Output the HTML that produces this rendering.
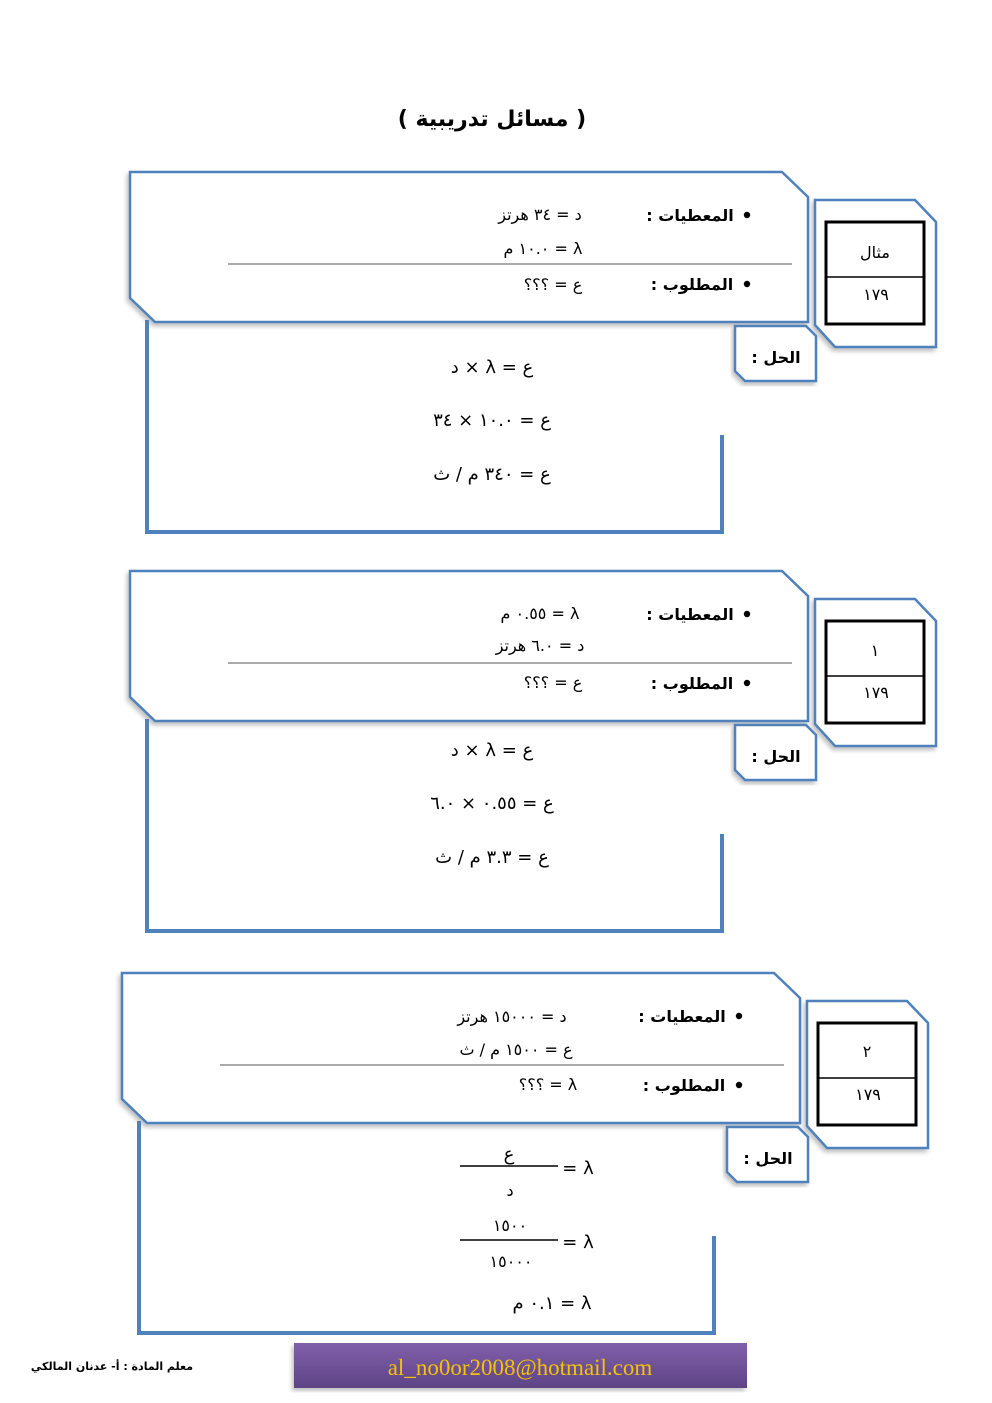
<!DOCTYPE html>
<html><head><meta charset="utf-8"><style>
html,body{margin:0;padding:0;background:#fff}
svg{display:block}
text{font-family:"DejaVu Sans","Liberation Sans",sans-serif;font-size:16px;fill:#000}
.b{font-weight:bold}
</style></head><body>
<svg width="992" height="1403" viewBox="0 0 992 1403" xmlns="http://www.w3.org/2000/svg">
<defs>
<filter id="sh" x="-5%" y="-5%" width="110%" height="115%"><feDropShadow dx="-2" dy="3" stdDeviation="2" flood-color="#000" flood-opacity="0.25"/></filter>
<linearGradient id="pg" x1="0" y1="0" x2="0" y2="1"><stop offset="0" stop-color="#8060aa"/><stop offset="1" stop-color="#5e4385"/></linearGradient>
<g id="shapes">
  <polygon points="130,172 782,172 808,197 808,322 155,322 130,298" fill="#fff" stroke="#4f81bd" stroke-width="2.5" filter="url(#sh)"/>
  <line x1="228" y1="264" x2="792" y2="264" stroke="#555" stroke-width="1"/>
  <polyline points="147,320 147,532 722,532 722,435" fill="none" stroke="#4f81bd" stroke-width="4"/>
  <polygon points="815,200 915,200 936,222 936,347 835,347 815,325" fill="#fff" stroke="#4f81bd" stroke-width="2.5" filter="url(#sh)"/>
  <rect x="826" y="222" width="98" height="102" fill="none" stroke="#000" stroke-width="3"/>
  <line x1="826" y1="277" x2="924" y2="277" stroke="#000" stroke-width="1.5"/>
  <polygon points="735,326 806,326 816,336 816,381 745,381 735,371" fill="#fff" stroke="#4f81bd" stroke-width="2.5" filter="url(#sh)"/>
  <circle cx="747" cy="215" r="3.2" fill="#000"/>
  <circle cx="747" cy="284" r="3.2" fill="#000"/>
  <text x="690" y="221" text-anchor="middle" direction="rtl" class="b">المعطيات :</text>
  <text x="692" y="290" text-anchor="middle" direction="rtl" class="b">المطلوب :</text>
  <text x="776" y="363" text-anchor="middle" direction="rtl" class="b">الحل :</text>
</g>
</defs>

<text x="492" y="126" text-anchor="middle" direction="rtl" class="b" style="font-size:22px">( مسائل تدريبية )</text>

<use href="#shapes"/>
<text x="540" y="220" text-anchor="middle" direction="rtl">د = ٣٤ هرتز</text>
<text x="543" y="254" text-anchor="middle" direction="rtl">λ = ١٠.٠ م</text>
<text x="553" y="290" text-anchor="middle" direction="rtl">ع = ؟؟؟</text>
<text x="875" y="258" text-anchor="middle">مثال</text>
<text x="876" y="300" text-anchor="middle">١٧٩</text>
<text x="492" y="373" text-anchor="middle" direction="rtl" style="font-size:18px">ع = λ × د</text>
<text x="492" y="426" text-anchor="middle" direction="rtl" style="font-size:18px">ع = ١٠.٠ × ٣٤</text>
<text x="492" y="480" text-anchor="middle" direction="rtl" style="font-size:18px">ع = ٣٤٠ م / ث</text>

<g transform="translate(0,399)"><use href="#shapes"/></g>
<text x="540" y="619" text-anchor="middle" direction="rtl">λ = ٠.٥٥ م</text>
<text x="540" y="651" text-anchor="middle" direction="rtl">د = ٦.٠ هرتز</text>
<text x="553" y="688" text-anchor="middle" direction="rtl">ع = ؟؟؟</text>
<text x="875" y="656" text-anchor="middle">١</text>
<text x="876" y="698" text-anchor="middle">١٧٩</text>
<text x="492" y="756" text-anchor="middle" direction="rtl" style="font-size:18px">ع = λ × د</text>
<text x="492" y="809" text-anchor="middle" direction="rtl" style="font-size:18px">ع = ٠.٥٥ × ٦.٠</text>
<text x="492" y="863" text-anchor="middle" direction="rtl" style="font-size:18px">ع = ٣.٣ م / ث</text>

<g transform="translate(-8,801)"><use href="#shapes"/></g>
<text x="512" y="1022" text-anchor="middle" direction="rtl">د = ١٥٠٠٠ هرتز</text>
<text x="516" y="1055" text-anchor="middle" direction="rtl">ع = ١٥٠٠ م / ث</text>
<text x="548" y="1090" text-anchor="middle" direction="rtl">λ = ؟؟؟</text>
<text x="867" y="1057" text-anchor="middle">٢</text>
<text x="868" y="1100" text-anchor="middle">١٧٩</text>
<line x1="460" y1="1166" x2="558" y2="1166" stroke="#000" stroke-width="1.5"/>
<text x="578" y="1174" text-anchor="middle" direction="rtl" style="font-size:18px">λ =</text>
<text x="509" y="1160" text-anchor="middle" style="font-size:18px">ع</text>
<text x="510" y="1196" text-anchor="middle" style="font-size:16px">د</text>
<line x1="460" y1="1240" x2="558" y2="1240" stroke="#000" stroke-width="1.5"/>
<text x="578" y="1248" text-anchor="middle" direction="rtl" style="font-size:18px">λ =</text>
<text x="510" y="1231" text-anchor="middle">١٥٠٠</text>
<text x="511" y="1267" text-anchor="middle">١٥٠٠٠</text>
<text x="552" y="1309" text-anchor="middle" direction="rtl" style="font-size:18px">λ = ٠.١ م</text>

<text x="112" y="1370" text-anchor="middle" direction="rtl" class="b" style="font-size:11px">معلم المادة : أ- عدنان المالكي</text>
<rect x="294" y="1343" width="453" height="45" fill="url(#pg)" filter="url(#sh)"/>
<text x="520" y="1375" text-anchor="middle" style="font-family:'Liberation Serif',serif;font-size:23px;fill:#f5c400">al_no0or2008@hotmail.com</text>
</svg>
</body></html>
